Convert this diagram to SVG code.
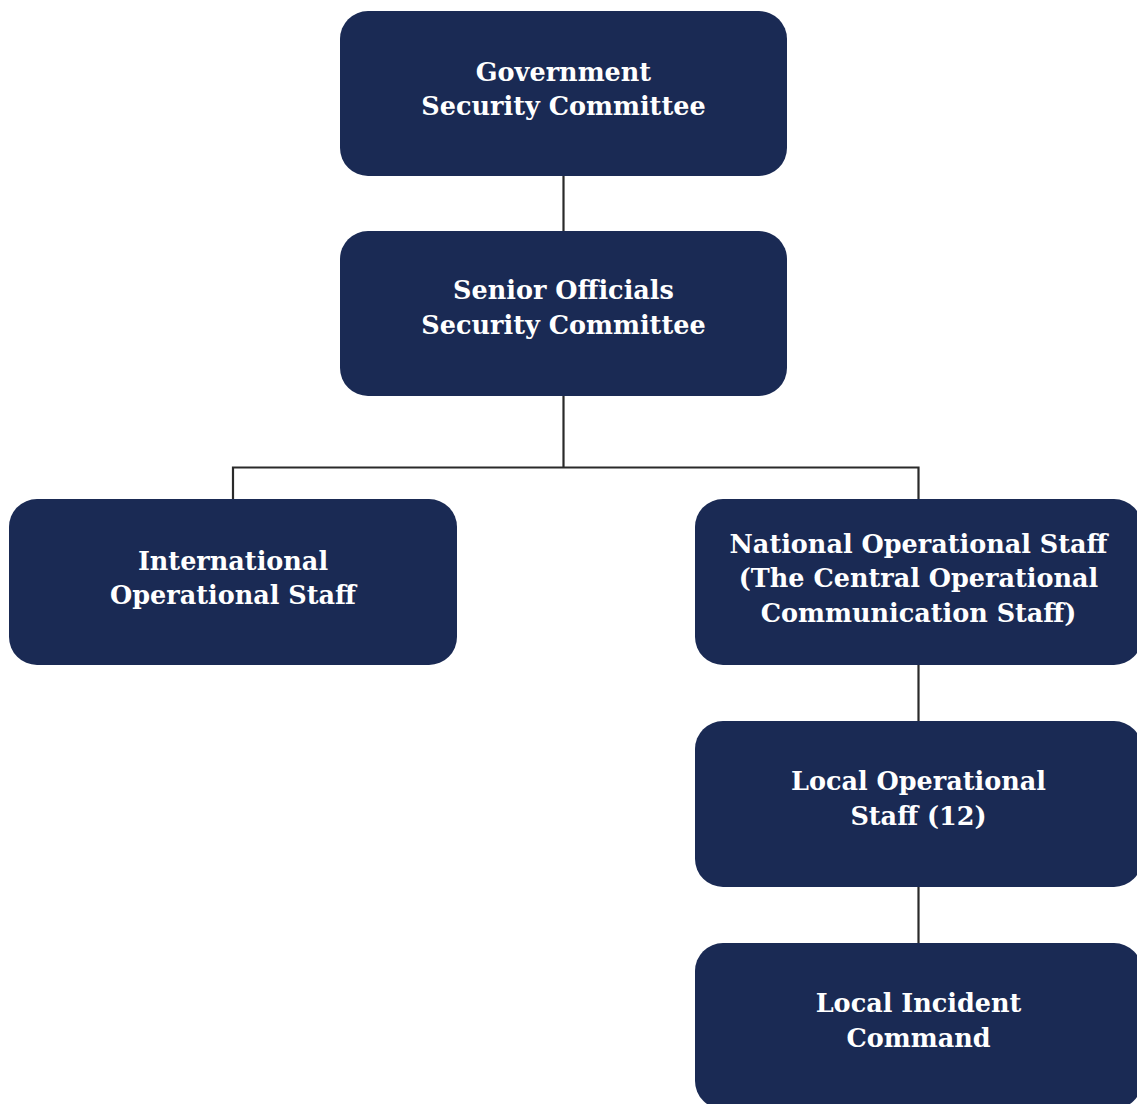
<svg xmlns="http://www.w3.org/2000/svg" width="1137" height="1104" viewBox="0 0 1137 1104">
<style>
.box{fill:#1a2a54;}
.t{font-family:"DejaVu Serif","Liberation Serif",serif;font-weight:bold;font-size:25.5px;fill:#ffffff;text-anchor:middle;}
.c{stroke:#2a2a2a;stroke-width:2.2;fill:none;}
</style>
<rect width="1137" height="1104" fill="#ffffff"/>
<g id="connectors">
<path class="c" d="M563.5 176V231"/>
<path class="c" d="M563.5 396V467.5"/>
<path class="c" d="M233 499V467.5H918.5V499"/>
<path class="c" d="M918.5 665V721"/>
<path class="c" d="M918.5 887V943"/>
</g>
<g id="gov">
<rect class="box" x="340" y="11" width="447" height="165" rx="28"/>
<text class="t" x="563.5" y="81">Government</text>
<text class="t" x="563.5" y="115">Security Committee</text>
</g>
<g id="senior">
<rect class="box" x="340" y="231" width="447" height="165" rx="28"/>
<text class="t" x="563.5" y="299">Senior Officials</text>
<text class="t" x="563.5" y="334">Security Committee</text>
</g>
<g id="intl">
<rect class="box" x="9" y="499" width="448" height="166" rx="28"/>
<text class="t" x="233" y="570">International</text>
<text class="t" x="233" y="604">Operational Staff</text>
</g>
<g id="national">
<rect class="box" x="695" y="499" width="447" height="166" rx="28"/>
<text class="t" x="918.5" y="553">National Operational Staff</text>
<text class="t" x="918.5" y="587">(The Central Operational</text>
<text class="t" x="918.5" y="622">Communication Staff)</text>
</g>
<g id="localop">
<rect class="box" x="695" y="721" width="447" height="166" rx="28"/>
<text class="t" x="918.5" y="790">Local Operational</text>
<text class="t" x="918.5" y="825">Staff (12)</text>
</g>
<g id="localinc">
<rect class="box" x="695" y="943" width="447" height="166" rx="28"/>
<text class="t" x="918.5" y="1012">Local Incident</text>
<text class="t" x="918.5" y="1047">Command</text>
</g>
</svg>
